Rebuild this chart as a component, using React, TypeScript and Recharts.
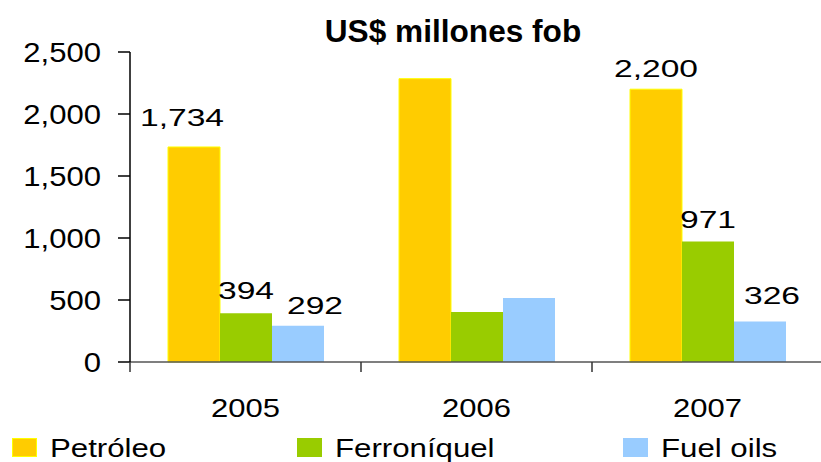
import { BarChart, Bar, XAxis, YAxis, LabelList } from 'recharts';

const CATEGORIES = ['2005', '2006', '2007'];
const PETROLEO = [1734, 2285, 2200];
const FERRONIQUEL = [394, 403, 971];
const FUEL_OILS = [292, 516, 326];
const SHOW_LABEL = [true, false, true];
const Y_TICKS = [0, 500, 1000, 1500, 2000, 2500];

const COLORS = {
  petroleo: '#ffcc00',
  ferroniquel: '#99cc00',
  fuel: '#99ccff',
} as const;

const FONT = '"Liberation Sans", Arial, sans-serif';
const CHART_W = 823;
const CHART_H = 436;
const LEFT = 130;
const BAND = (CHART_W - LEFT) / CATEGORIES.length;

// the source picture has horizontally stretched type
const STRETCH = { label: 1.4, yTick: 1.15, xTick: 1.24, legend: 1.2, title: 1.02 };

// hand nudges for the value labels (dx from bar centre, dy of text centre from bar top)
const LABEL_NUDGE: Record<string, Array<[number, number]>> = {
  petroleo: [[-12, -29], [0, 0], [0, -21]],
  ferroniquel: [[0, -23], [0, 0], [0, -22]],
  fuel: [[17, -20], [0, 0], [12, -26]],
};

const data = CATEGORIES.map((year, i) => ({
  year,
  petroleo: PETROLEO[i],
  ferroniquel: FERRONIQUEL[i],
  fuel: FUEL_OILS[i],
}));

const fmt = (v: number) => v.toLocaleString('en-US');

function makeLabel(key: string) {
  return function ValueLabel(props: any) {
    const { x, y, width, value, index } = props;
    if (!SHOW_LABEL[index]) return null;
    const [dx, dy] = LABEL_NUDGE[key][index];
    const cx = Number(x) + Number(width) / 2 + dx;
    const cy = Number(y) + dy + 8.5;
    return (
      <text
        transform={`translate(${cx} ${cy}) scale(${STRETCH.label} 1)`}
        textAnchor="middle"
        fontFamily={FONT}
        fontSize={24}
        fill="#000"
      >
        {fmt(Number(value))}
      </text>
    );
  };
}

function YearTick(props: any) {
  const { x, y, payload } = props;
  const left = x - BAND / 2;
  return (
    <g>
      <line x1={left} x2={left} y1={y - 10} y2={y} stroke="#333" strokeWidth={1.5} />
      <text
        transform={`translate(${x} ${y + 45}) scale(${STRETCH.xTick} 1)`}
        textAnchor="middle"
        fontFamily={FONT}
        fontSize={25}
        fill="#000"
      >
        {payload.value}
      </text>
    </g>
  );
}

function ValueTick(props: any) {
  const { x, y, payload } = props;
  return (
    <text
      transform={`translate(${x} ${y + 9.5}) scale(${STRETCH.yTick} 1)`}
      textAnchor="end"
      fontFamily={FONT}
      fontSize={27}
      fill="#000"
    >
      {fmt(payload.value)}
    </text>
  );
}

const LEGEND = [
  { name: 'Petróleo', color: COLORS.petroleo, border: '#ffff00', left: 12 },
  { name: 'Ferroníquel', color: COLORS.ferroniquel, border: COLORS.ferroniquel, left: 297 },
  { name: 'Fuel oils', color: COLORS.fuel, border: COLORS.fuel, left: 623 },
];

export default function App() {
  return (
    <div
      style={{
        position: 'fixed',
        left: 0,
        top: 0,
        width: 821,
        height: 462,
        overflow: 'hidden',
        background: '#fff',
        fontFamily: FONT,
      }}
    >
      <div
        style={{
          position: 'absolute',
          left: 453,
          top: 14,
          transform: `translateX(-50%) scaleX(${STRETCH.title})`,
          whiteSpace: 'nowrap',
          fontWeight: 'bold',
          fontSize: 31,
          lineHeight: '36px',
          color: '#000',
        }}
      >
        US$ millones fob
      </div>
      <BarChart
        width={CHART_W}
        height={CHART_H}
        data={data}
        margin={{ top: 52, right: 0, left: 0, bottom: 0 }}
        barCategoryGap={38}
        barGap={0}
      >
        <XAxis
          dataKey="year"
          height={CHART_H - 362}
          tickLine={false}
          tickSize={10}
          tickMargin={0}
          axisLine={{ stroke: '#555', strokeWidth: 1.5 }}
          tick={<YearTick />}
          interval={0}
        />
        <YAxis
          width={LEFT}
          domain={[0, 2500]}
          ticks={Y_TICKS}
          tickSize={12}
          tickMargin={17}
          axisLine={{ stroke: '#000', strokeWidth: 1.5 }}
          tickLine={{ stroke: '#000', strokeWidth: 1.5 }}
          tick={<ValueTick />}
        />
        <Bar dataKey="petroleo" fill={COLORS.petroleo} stroke="#ffff00" strokeWidth={1} isAnimationActive={false}>
          <LabelList dataKey="petroleo" content={makeLabel('petroleo')} />
        </Bar>
        <Bar dataKey="ferroniquel" fill={COLORS.ferroniquel} isAnimationActive={false}>
          <LabelList dataKey="ferroniquel" content={makeLabel('ferroniquel')} />
        </Bar>
        <Bar dataKey="fuel" fill={COLORS.fuel} isAnimationActive={false}>
          <LabelList dataKey="fuel" content={makeLabel('fuel')} />
        </Bar>
      </BarChart>
      {LEGEND.map((item) => (
        <div key={item.name} style={{ position: 'absolute', left: item.left, top: 438, whiteSpace: 'nowrap' }}>
          <div
            style={{
              position: 'absolute',
              left: 0,
              top: 0,
              width: 25,
              height: 19,
              boxSizing: 'border-box',
              background: item.color,
              border: `1px solid ${item.border}`,
            }}
          />
          <span
            style={{
              position: 'absolute',
              left: 38,
              top: -3,
              fontSize: 26,
              lineHeight: '26px',
              color: '#000',
              transform: `scaleX(${STRETCH.legend})`,
              transformOrigin: 'left center',
            }}
          >
            {item.name}
          </span>
        </div>
      ))}
    </div>
  );
}
